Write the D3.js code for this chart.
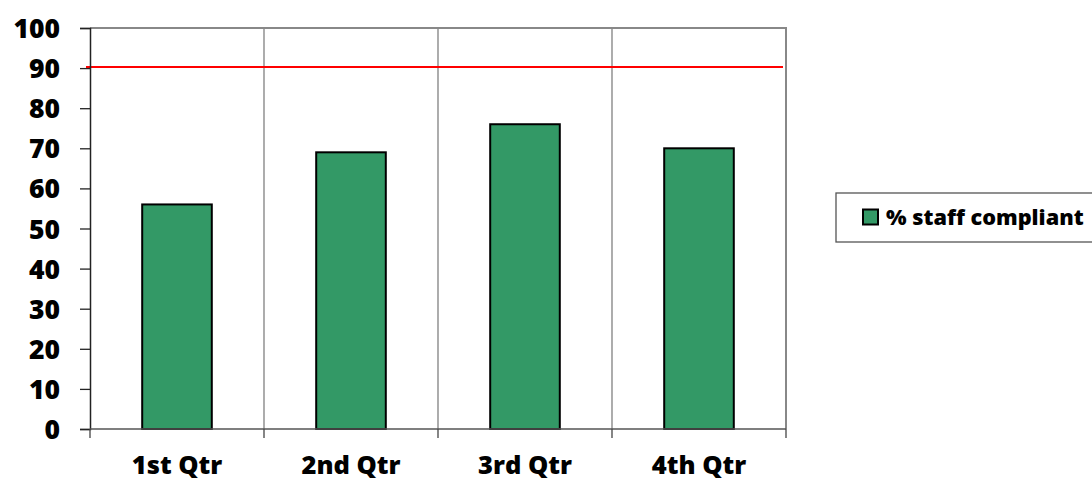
<!DOCTYPE html>
<html>
<head>
<meta charset="utf-8">
<script src="https://cdn.jsdelivr.net/npm/d3@7"></script>
<style>
  body { margin: 0; background: #fff; }
  text { font-family: "Open Sans", sans-serif; font-weight: 800; fill: #000; }
</style>
</head>
<body>
<div id="chart"></div>
<script>
// data
var quarters = ["1st Qtr", "2nd Qtr", "3rd Qtr", "4th Qtr"];
var compliant = [56, 69, 76, 70];
var target = 90;
var yTicks = [0, 10, 20, 30, 40, 50, 60, 70, 80, 90, 100];
var seriesName = "% staff compliant";

var W = 1092, H = 482;
var margin = { top: 28, right: 306, bottom: 53, left: 90 },
    width = W - margin.left - margin.right,
    height = H - margin.top - margin.bottom;

var svg = d3.select("#chart")
    .append("svg")
    .attr("width", W)
    .attr("height", H)
    .append("g")
    .attr("transform", "translate(" + margin.left + "," + margin.top + ")");

// category slots (gridlines) and bars
var xCat = d3.scaleBand().domain(quarters).range([0, width]).padding(0);
var xBar = d3.scaleBand().domain(quarters).range([0, width])
    .paddingInner(0.6).paddingOuter(0.3);
var y = d3.scaleLinear().domain([0, 100]).range([height, 0]);

// vertical gridlines at category boundaries
var bounds = quarters.map(function (q) { return xCat(q); }).slice(1);
svg.append("g")
    .selectAll("line")
    .data(bounds)
    .enter()
    .append("line")
    .attr("x1", function (d) { return d; })
    .attr("x2", function (d) { return d; })
    .attr("y1", 0)
    .attr("y2", height)
    .attr("stroke", "#808080")
    .attr("stroke-width", 1.3);

// plot border (top, right)
svg.append("path")
    .attr("d", "M0,0H" + width + "V" + height)
    .attr("fill", "none")
    .attr("stroke", "#888")
    .attr("stroke-width", 2);

// bars
svg.append("g")
    .selectAll("rect")
    .data(compliant)
    .enter()
    .append("rect")
    .attr("x", function (d, i) { return xBar(quarters[i]); })
    .attr("y", function (d) { return y(d); })
    .attr("width", xBar.bandwidth())
    .attr("height", function (d) { return height - y(d); })
    .attr("fill", "#339966")
    .attr("stroke", "#000")
    .attr("stroke-width", 2);

// target line
svg.append("line")
    .attr("x1", -4)
    .attr("x2", width - 3)
    .attr("y1", y(target) - 1)
    .attr("y2", y(target) - 1)
    .attr("stroke", "#ff0000")
    .attr("stroke-width", 2);

// y axis
var yAxis = svg.append("g")
    .call(d3.axisLeft(y).tickValues(yTicks).tickSize(10).tickPadding(20));
yAxis.select(".domain").attr("stroke", "#222").attr("stroke-width", 1.5);
yAxis.selectAll(".tick line").attr("stroke", "#222").attr("stroke-width", 1.3);
yAxis.selectAll(".tick text")
    .attr("font-size", 26.5)
    .attr("dy", "0.36em")
    .style("font-family", "'Open Sans', sans-serif")
    .style("font-weight", "800");

// x axis
var xAxis = svg.append("g")
    .attr("transform", "translate(0," + height + ")");
xAxis.append("line")
    .attr("x1", 0).attr("x2", width)
    .attr("stroke", "#555").attr("stroke-width", 1.5);
xAxis.selectAll(".xt")
    .data(quarters.map(function (q) { return xCat(q); }).concat([width]))
    .enter()
    .append("line")
    .attr("x1", function (d) { return d; })
    .attr("x2", function (d) { return d; })
    .attr("y1", 0)
    .attr("y2", 9)
    .attr("stroke", "#444")
    .attr("stroke-width", 1.3);
xAxis.selectAll("text")
    .data(quarters)
    .enter()
    .append("text")
    .attr("x", function (d) { return xCat(d) + xCat.bandwidth() / 2; })
    .attr("y", 45)
    .attr("text-anchor", "middle")
    .attr("font-size", 25.5)
    .text(function (d) { return d; });

// legend
var legend = d3.select("svg").append("g")
    .attr("transform", "translate(836,193)");
legend.append("rect")
    .attr("x", 0).attr("y", 0)
    .attr("width", 262).attr("height", 49)
    .attr("fill", "#fff")
    .attr("stroke", "#555")
    .attr("stroke-width", 1.3);
legend.append("rect")
    .attr("x", 27).attr("y", 16.5)
    .attr("width", 15).attr("height", 15)
    .attr("fill", "#339966")
    .attr("stroke", "#000")
    .attr("stroke-width", 2);
legend.append("text")
    .attr("x", 50)
    .attr("y", 32)
    .attr("font-size", 21.7)
    .text(seriesName);
</script>
</body>
</html>
